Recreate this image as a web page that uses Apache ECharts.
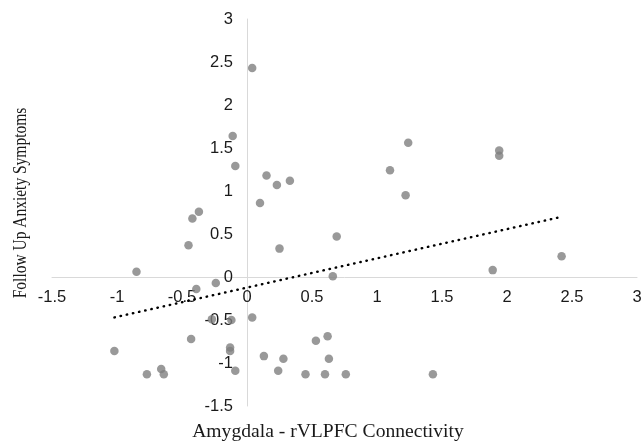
<!DOCTYPE html>
<html>
<head>
<meta charset="utf-8">
<script src="https://cdn.jsdelivr.net/npm/echarts@6/dist/echarts.min.js"></script>
<style>
  html, body { margin: 0; padding: 0; background: #fff; }
  #chart { width: 641px; height: 444px; }
</style>
</head>
<body>
<div id="chart"></div>
<script>
// connectivity (x) and follow-up anxiety (y)
var connectivity = [
  0.04, -0.11, -0.09, 0.15, 0.23, 0.33, 0.10, -0.37, -0.42,
  1.24, 1.10, 1.22, 1.94, 1.94, 0.69, 0.66, 1.89, 2.42,
  0.25, -0.45, -0.85, -0.24, -0.39, 0.04, -0.12, -0.27,
  -0.43, -1.02, -0.13, -0.13, -0.77, -0.66, -0.64, -0.09,
  0.13, 0.28, 0.24, 0.45, 0.60, 0.63, 0.53, 0.62, 0.76, 1.43
];
var anxiety = [
  2.43, 1.64, 1.29, 1.18, 1.07, 1.12, 0.86, 0.76, 0.68,
  1.56, 1.24, 0.95, 1.47, 1.41, 0.47, 0.01, 0.08, 0.24,
  0.33, 0.37, 0.06, -0.07, -0.14, -0.47, -0.50, -0.49,
  -0.72, -0.86, -0.82, -0.86, -1.13, -1.07, -1.13, -1.09,
  -0.92, -0.95, -1.09, -1.13, -1.13, -0.95, -0.74, -0.69, -1.13, -1.13
];
// linear trend line end points
var trendX = [-1.02, 2.42];
var trendY = [-0.47, 0.70];

var xTitle = "Amygdala - rVLPFC Connectivity";
var yTitle = "Follow Up Anxiety Symptoms";

var myChart = echarts.init(document.getElementById("chart"));

var points = connectivity.map(function (x, i) { return [x, anxiety[i]]; });
var trend = trendX.map(function (x, i) { return [x, trendY[i]]; });

function axis(extra) {
  return echarts.util.merge({
    type: "value",
    min: -1.5,
    max: 3,
    interval: 0.5,
    axisLine: { onZero: false, lineStyle: { color: "#d9d9d9", width: 1 } },
    axisTick: { show: false },
    splitLine: { show: false },
    axisLabel: { color: "#1a1a1a", fontFamily: "Liberation Sans", fontSize: 16.5 }
  }, extra, true);
}

myChart.setOption({
  animation: false,
  grid: { left: 52, right: 4, top: 19, bottom: 38, outerBoundsMode: "none" },
  // axes sit on the zero lines, labels with them
  xAxis: axis({ position: "bottom", offset: -129, axisLabel: { margin: 12 } }),
  yAxis: axis({ position: "left", offset: -195, axisLabel: { margin: 14 } }),
  graphic: [
    {
      type: "text",
      x: 328,
      y: 432,
      style: {
        text: xTitle, font: "19.6px 'Liberation Serif'", fill: "#1a1a1a",
        align: "center", verticalAlign: "middle"
      }
    },
    {
      type: "text",
      x: 21,
      y: 203,
      rotation: Math.PI / 2,
      scaleX: 0.79,
      style: {
        text: yTitle, font: "19.6px 'Liberation Serif'", fill: "#1a1a1a",
        align: "center", verticalAlign: "middle"
      }
    }
  ],
  series: [
    {
      type: "scatter",
      data: points,
      symbolSize: 8.5,
      itemStyle: { color: "#7f7f7f" },
      z: 3
    },
    {
      type: "line",
      data: trend,
      symbol: "none",
      lineStyle: { color: "#000", width: 2.4, type: [0.5, 5.8], cap: "round" },
      z: 4
    }
  ]
});
</script>
</body>
</html>
